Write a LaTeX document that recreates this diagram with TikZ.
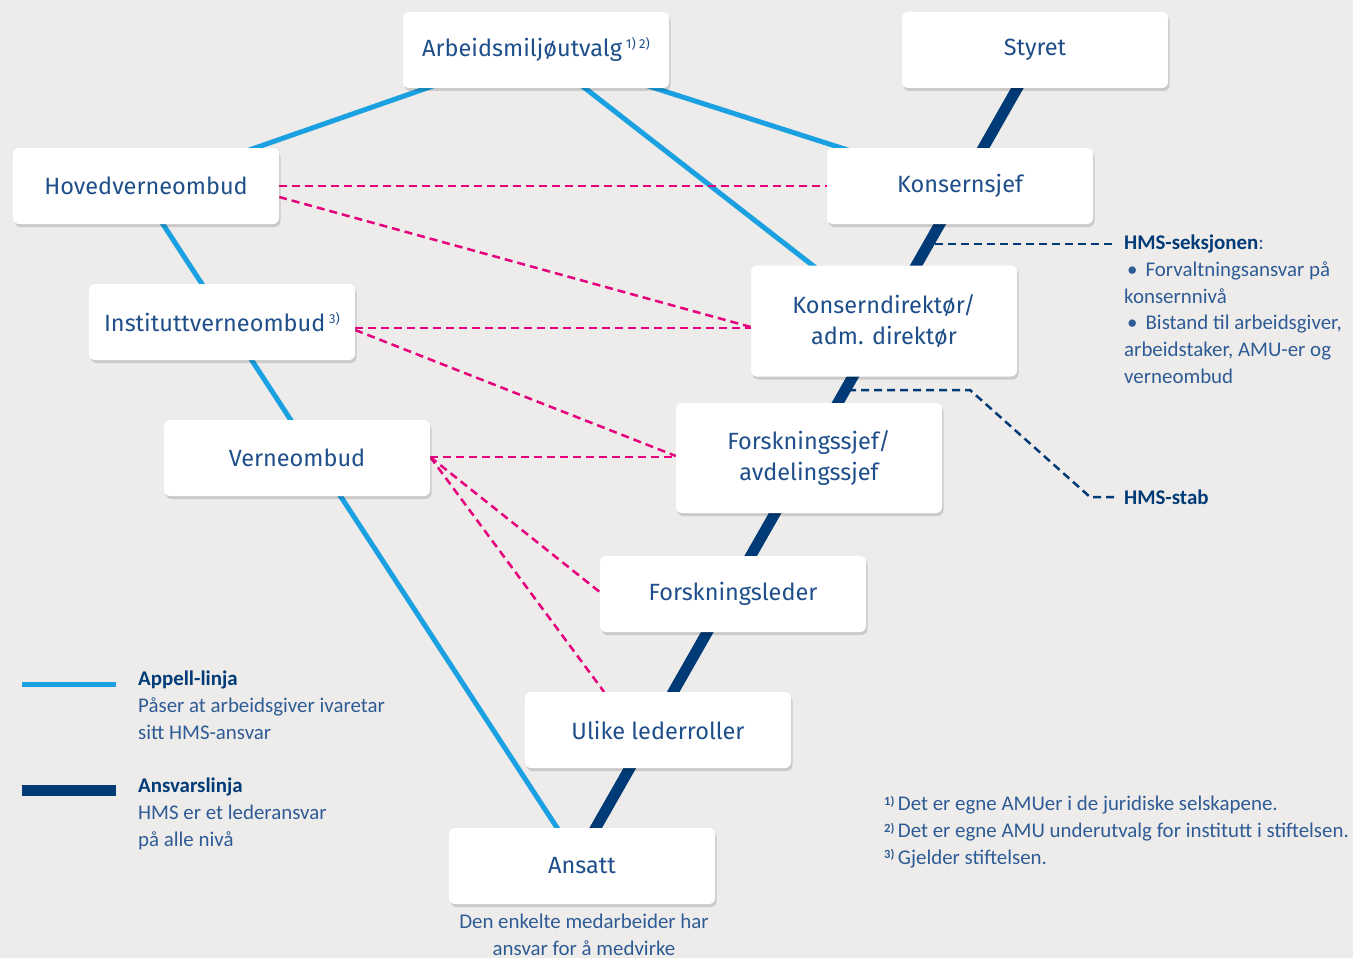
\documentclass[tikz,border=0pt]{standalone}
\usepackage{fontspec}
\setmainfont{Carlito}
\newfontfamily\nodefont{Fira Sans}
\usetikzlibrary{shadows,backgrounds}
\definecolor{bg}{HTML}{EEECEA}
\definecolor{appell}{HTML}{1BA1E2}
\definecolor{ansvar}{HTML}{003B77}
\definecolor{verne}{HTML}{E5007D}
\definecolor{nodetext}{HTML}{1E4F8A}
\definecolor{annot}{HTML}{2D5B95}
\definecolor{head}{HTML}{003B77}
\tikzset{
  box/.style={fill=white, rounded corners=6pt, minimum width=266pt, minimum height=76pt,
    inner sep=0pt, align=center, text=nodetext,
    font=\nodefont\fontsize{23.5}{31}\selectfont,
    drop shadow={shadow xshift=1.5pt, shadow yshift=-3pt, opacity=0.14, fill=black}},
  tallbox/.style={box, minimum height=110pt},
  appelline/.style={draw=appell, line width=5pt},
  ansvarline/.style={draw=ansvar, line width=11pt},
  verneline/.style={draw=verne, line width=2.5pt, dash pattern=on 8pt off 5pt},
  hmsline/.style={draw=ansvar, line width=2.5pt, dash pattern=on 8pt off 5pt},
  annottext/.style={text=annot, font=\fontsize{20.9}{26.7}\selectfont, inner sep=0pt, align=left}
}
\newcommand{\nodesup}[1]{\,{\fontsize{13}{13}\selectfont\raisebox{8pt}{#1}}}
\newcommand{\fnmark}[1]{{\bfseries\fontsize{12.5}{12.5}\selectfont\raisebox{5.5pt}{#1}}}
\begin{document}
\begin{tikzpicture}[x=1pt,y=-1pt]
\useasboundingbox (0,0) rectangle (1353,958);

% nodes
\node[box] (amu) at (536,50) {Arbeidsmiljøutvalg\nodesup{1) 2)}};
\node[box] (styret) at (1035,50) {Styret};
\node[box] (hoved) at (146,186) {Hovedverneombud};
\node[box] (ksjef) at (960,186) {Konsernsjef};
\node[tallbox, minimum height=111pt] (kdir) at (884,321) {Konserndirektør/\\adm. direktør};
\node[box] (inst) at (222,322) {Instituttverneombud\nodesup{3)}};
\node[box] (verne) at (297,458) {Verneombud};
\node[tallbox] (fsjef) at (809,458) {Forskningssjef/\\avdelingssjef};
\node[box] (fleder) at (733,594) {Forskningsleder};
\node[box] (ulike) at (658,730) {Ulike lederroller};
\node[box] (ansatt) at (582,866) {Ansatt};

% annotations
\node[annottext, anchor=north, align=center] (ansattcap) at (584,914) {Den enkelte medarbeider har\\ansvar for å medvirke};
\node[annottext, anchor=north west] (hmsseks) at (1124,235)
  {\textcolor{head}{\textbf{HMS-seksjonen}}:\\
   \hspace*{3pt}•\hspace{8pt}Forvaltningsansvar på\\
   konsernnivå\\
   \hspace*{3pt}•\hspace{8pt}Bistand til arbeidsgiver,\\
   arbeidstaker, AMU-er og\\
   verneombud};
\node[annottext, anchor=west, text=head, font=\bfseries\fontsize{20.9}{26.7}\selectfont] (hmsstab) at (1124,497) {HMS-stab};
\node[annottext, anchor=north west] (fotnoter) at (884,796)
  {\fnmark{1)}\,Det er egne AMUer i de juridiske selskapene.\\
   \fnmark{2)}\,Det er egne AMU underutvalg for institutt i stiftelsen.\\
   \fnmark{3)}\,Gjelder stiftelsen.};

% legend
\coordinate (la1) at (22,684);
\coordinate (la2) at (116,684);
\coordinate (lb1) at (22,790);
\coordinate (lb2) at (116,790);
\draw[appelline] (la1) -- (la2);
\draw[ansvarline] (lb1) -- (lb2);
\node[annottext, anchor=north west] (legA) at (138,671)
  {\textcolor{head}{\textbf{Appell-linja}}\\Påser at arbeidsgiver ivaretar\\sitt HMS-ansvar};
\node[annottext, anchor=north west] (legB) at (138,778)
  {\textcolor{head}{\textbf{Ansvarslinja}}\\HMS er et lederansvar\\på alle nivå};

% HMS dashed connectors
\coordinate (s1) at (935,244);
\coordinate (s2) at (1115,244);
\coordinate (t1) at (848,390);
\coordinate (t2) at (970,390);
\coordinate (t3) at (1090,497);
\coordinate (t4) at (1115,497);
\draw[hmsline] (s1) -- (s2);
\draw[hmsline] (t1) -- (t2) -- (t3) -- (t4);

\begin{pgfonlayer}{background}
\fill[bg] (0,0) rectangle (1353,958);
% Ansvarslinja
\draw[ansvarline] ([xshift=4pt]styret.center) -- ([xshift=-8pt]ansatt.center);
% Appell-linja
\draw[appelline] (amu.center) -- (hoved.center);
\draw[appelline] (amu.center) -- (ksjef.center);
\draw[appelline] (amu.center) -- (kdir.center);
\draw[appelline] ([xshift=-8pt]hoved.center) -- (ansatt.center);
% verneombud links
\draw[verneline] (hoved.east) -- (ksjef.west);
\draw[verneline] ([yshift=-11pt]hoved.east) -- ([yshift=-6pt]kdir.west);
\draw[verneline] ([yshift=-6pt]inst.east) -- ([yshift=-6pt]inst.east -| kdir.west);
\draw[verneline] ([yshift=-8pt]inst.east) -- ([yshift=2pt]fsjef.west);
\draw[verneline] ([yshift=1pt]verne.east) -- ([yshift=1pt]verne.east -| fsjef.west);
\draw[verneline] ([yshift=1pt]verne.east) -- ([yshift=2pt]fleder.west);
\draw[verneline] ([yshift=1pt]verne.east) -- ([xshift=-54pt]ulike.north);
\end{pgfonlayer}
\end{tikzpicture}
\end{document}
